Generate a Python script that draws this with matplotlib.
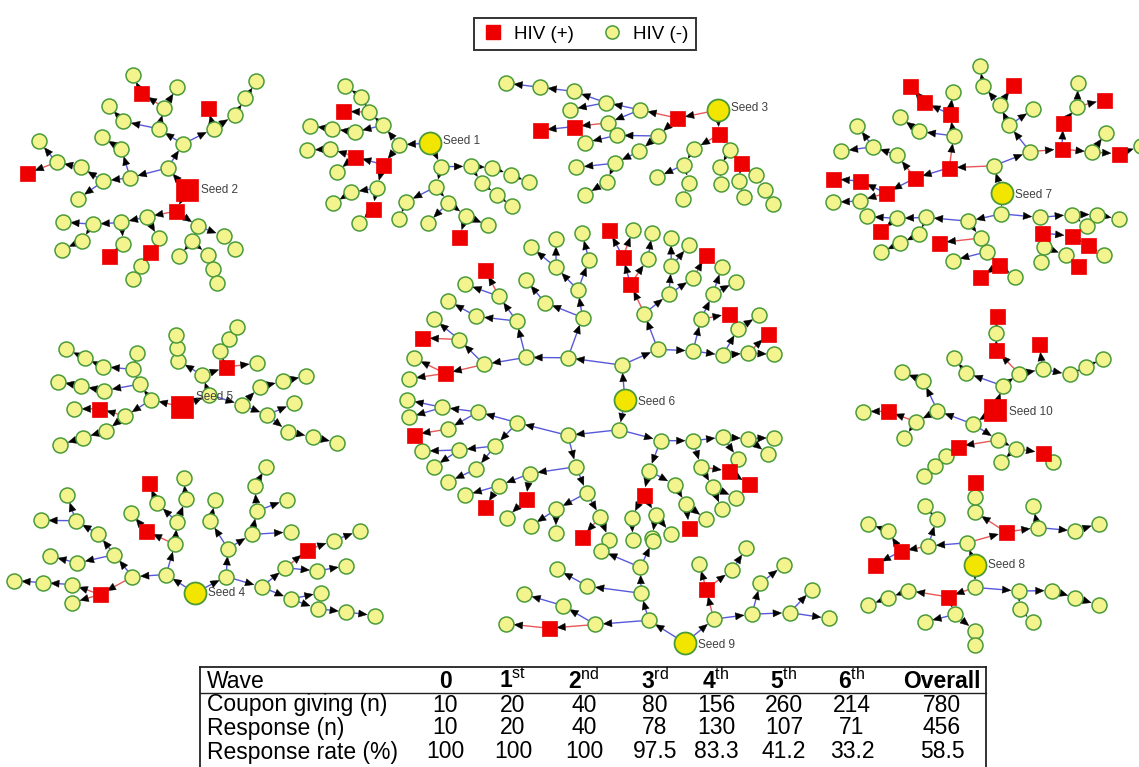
import numpy as np
import matplotlib
matplotlib.use("Agg")
import matplotlib.pyplot as plt
from matplotlib.collections import LineCollection, PolyCollection
from matplotlib.lines import Line2D

plt.rcParams['font.family'] = ['Liberation Sans', 'DejaVu Sans']
plt.rcParams['mathtext.fontset'] = 'custom'
plt.rcParams['mathtext.rm'] = 'Liberation Sans'
plt.rcParams['mathtext.bf'] = 'Liberation Sans:bold'

# ------------------------------------------------------------------ data
SEED_NAMES = ['Seed 1', 'Seed 2', 'Seed 3', 'Seed 4', 'Seed 5',
              'Seed 6', 'Seed 7', 'Seed 8', 'Seed 9', 'Seed 10']
SEED_HIV = ['n', 'p', 'n', 'n', 'p', 'n', 'n', 'n', 'n', 'p']

# recruitment trees, wave by wave (breadth first):
# *_KIDS[w] = number of recruits of each person of wave w
# *_HIV[w]  = HIV status of each person of wave w+1 (p = positive, n = negative)
S1_KIDS = ["2", "22", "2222", "21221211", "101101100211"]
S1_HIV = ["nn", "npnn", "nnpnnnnn", "npnnnnpnnnnn", "nnnnnpnnn"]
S2_KIDS = ["2", "22", "2222", "22122121", "1021010211010", "1010201011"]
S2_HIV = ["np", "nnnn", "nnnnnnnn", "npnnnnnnnpnnn", "nnpnnnnpnn", "nnnpnnn"]
S3_KIDS = ["2", "22", "2212", "2111212", "1010201011", "1001001"]
S3_HIV = ["pp", "nnnn", "nnnnnnp", "nnpnnnnnnn", "npnnnnn", "nnn"]
S4_KIDS = ["2", "22", "2222", "22212122", "10110201101110", "1010100201"]
S4_HIV = ["nn", "nnnn", "nnnnnpnp", "nnnpnnnnnnnnnn", "nnnnnnpnnn", "nnnnnn"]
S5_KIDS = ["2", "22", "2222", "21212111", "10101101101", "1010100"]
S5_HIV = ["nn", "nnnn", "nnpnnnpn", "nnnnnnnnnnn", "nnnnnnn", "nnn"]
S6_KIDS = ["2", "22", "2222", "22222222", "2222212222222122",
           "210212121202122212121221222102"]
S6_HIV = ["nn", "nnnn", "nnnnnnnn", "nnnpnnnnnnnnpnnn",
          "nnpnnnnpnnnnnnpnnnnnpnnnnnnpnn",
          "npnnnpnnnnpnnnpnnnpnnnnpnnnnpnnnpnnnnpnnnpnn"]
S7_KIDS = ["2", "22", "2222", "22222222", "2102211221022101",
           "10201010211001020110"]
S7_HIV = ["nn", "npnn", "pnnpnnpn", "npnnpnnpnnpnnpnn",
          "pnnpnnpnnpnnpnnpnnpn", "npnnpnnpnnpnpn"]
S8_KIDS = ["2", "22", "2222", "21121211", "10101010101"]
S8_HIV = ["nn", "pnpn", "nnnpnnnn", "nnnnnpnnnnn", "npnnnn"]
S9_KIDS = ["2", "22", "2222", "21102111"]
S9_HIV = ["nn", "npnn", "nnnnnnnp", "nnnnnnnnn"]
S10_KIDS = ["2", "22", "2122", "2101212", "101010101", "10010"]
S10_HIV = ["nn", "nnnn", "npnnnpn", "npnnpnnnp", "npnnn", "nn"]

TREES_KIDS = [S1_KIDS, S2_KIDS, S3_KIDS, S4_KIDS, S5_KIDS,
              S6_KIDS, S7_KIDS, S8_KIDS, S9_KIDS, S10_KIDS]
TREES_HIV = [S1_HIV, S2_HIV, S3_HIV, S4_HIV, S5_HIV,
             S6_HIV, S7_HIV, S8_HIV, S9_HIV, S10_HIV]

LEGEND_LABELS = ['HIV (+)', 'HIV (-)']

TABLE_COLS = ['0', '1st', '2nd', '3rd', '4th', '5th', '6th', 'Overall']
TABLE_ROWS = ['Coupon giving (n)', 'Response (n)', 'Response rate (%)']
COUPONS = ['10', '20', '40', '80', '156', '260', '214', '780']
RESPONSE = ['10', '20', '40', '78', '130', '107', '71', '456']
RATE = ['100', '100', '100', '97.5', '83.3', '41.2', '33.2', '58.5']

# ------------------------------------------------------------------ layout (styling)
# seed centre (px), angular sector (deg), radial step per wave towards
# left / right / up / down (px), seed label offset
LAYOUT = [
    dict(c=(430, 143), sec=(125, 345), st=(23, 20, 14, 18), lab=(13, -2)),
    dict(c=(187, 190), sec=(55, 305), st=(25.5, 24, 19, 14.5), lab=(14, 0)),
    dict(c=(718, 110), sec=(160, 305), st=(35, 18, 18, 16.5), lab=(13, -2)),
    dict(c=(195, 593), sec=(-20, 195), st=(29, 29.5, 21.5, 15), lab=(13, 0)),
    dict(c=(182, 407), sec=(-30, 215), st=(25, 26, 12.8, 17), lab=(14, -10)),
    dict(c=(625, 400), sec=(12, 348), st=(35, 24.5, 27, 22), lab=(13, 2)),
    dict(c=(1002, 193), sec=(15, 345), st=(27, 23.5, 20, 12.8), lab=(13, 2)),
    dict(c=(975, 565), sec=(15, 345), st=(23, 27, 15, 14.4), lab=(13, 0)),
    dict(c=(685, 643), sec=(5, 178), st=(43.5, 35, 24, 10), lab=(13, 2)),
    dict(c=(995, 410), sec=(12, 320), st=(24.8, 19, 17.3, 11), lab=(14, 2)),
]
R_OFF = 8.0

R_NODE = 7.5
R_SEED = 11.0
COL_NEG = '#f4f48e'
COL_SEED = '#f2e600'
COL_EDGE_NODE = '#4a9a3a'
COL_POS = '#ee0000'
COL_BLUE = '#5858dc'
COL_RED = '#e85858'


def build(kids_levels, hiv_levels, seed_hiv):
    parent, depth, hiv = [-1], [0], [seed_hiv]
    level = [0]
    for d, (kids, stat) in enumerate(zip(kids_levels, hiv_levels)):
        counts = [int(ch) for ch in kids]
        assert len(counts) == len(level), (kids, len(level))
        assert sum(counts) == len(stat), (kids, stat)
        new, k = [], 0
        for node, cnt in zip(level, counts):
            for _ in range(cnt):
                parent.append(node)
                depth.append(d + 1)
                hiv.append(stat[k])
                new.append(len(parent) - 1)
                k += 1
        level = new
    return parent, depth, hiv


def radial(parent, depth, c, sec, st):
    n = len(parent)
    children = [[] for _ in range(n)]
    for i, p in enumerate(parent):
        if p >= 0:
            children[p].append(i)
    leaves = [0.0] * n
    for i in reversed(range(n)):
        leaves[i] = max(1.0, sum(leaves[ch] for ch in children[i]))
    ang = np.zeros(n)
    span = {0: sec}
    for i in range(n):
        a0, a1 = span[i]
        ang[i] = 0.5 * (a0 + a1)
        tot = sum(leaves[ch] for ch in children[i])
        cur = a0
        for ch in children[i]:
            w = (a1 - a0) * leaves[ch] / tot
            span[ch] = (cur, cur + w)
            cur += w
    d = np.asarray(depth, float)
    a = np.radians(ang)
    ca, sa = np.cos(a), np.sin(a)
    sx = np.where(ca < 0, st[0], st[1])
    sy = np.where(sa > 0, st[2], st[3])
    rx = np.where(d > 0, R_OFF + d * sx, 0.0)
    ry = np.where(d > 0, R_OFF + d * sy, 0.0)
    return c[0] + rx * ca, c[1] - ry * sa


W, H = 1139, 767
fig = plt.figure(figsize=(W / 100, H / 100), dpi=100)
ax = fig.add_axes([0, 0, 1, 1])
ax.set_xlim(0, W)
ax.set_ylim(H, 0)
ax.axis('off')

px2pt = 72 / 100
segs_b, segs_r, heads = [], [], []
for k in range(10):
    parent, depth, hiv = build(TREES_KIDS[k], TREES_HIV[k], SEED_HIV[k])
    L = LAYOUT[k]
    x, y = radial(parent, depth, L['c'], L['sec'], L['st'])
    for i, p in enumerate(parent):
        if p < 0:
            continue
        dx, dy = x[i] - x[p], y[i] - y[p]
        dist = np.hypot(dx, dy)
        ux, uy = dx / dist, dy / dist
        tip = np.array([x[i] - ux * (R_NODE + 0.5), y[i] - uy * (R_NODE + 0.5)])
        base = tip - 8.5 * np.array([ux, uy])
        nrm = np.array([-uy, ux]) * 3.6
        heads.append([tip, base + nrm, base - nrm])
        seg = [(x[p], y[p]), (base[0], base[1])]
        if hiv[i] != hiv[p]:
            segs_r.append(seg)
        else:
            segs_b.append(seg)
    hiv = np.array(hiv)
    dep = np.array(depth)
    m_neg = (hiv == 'n') & (dep > 0)
    m_pos = (hiv == 'p') & (dep > 0)
    ax.scatter(x[m_neg], y[m_neg], s=(2 * R_NODE * px2pt) ** 2, marker='o',
               facecolor=COL_NEG, edgecolor=COL_EDGE_NODE, linewidth=1.1, zorder=4)
    ax.scatter(x[m_pos], y[m_pos], s=(2 * R_NODE * px2pt) ** 2, marker='s',
               facecolor=COL_POS, edgecolor=COL_POS, linewidth=0.5, zorder=4)
    if SEED_HIV[k] == 'p':
        ax.scatter([x[0]], [y[0]], s=(2 * R_SEED * px2pt) ** 2, marker='s',
                   facecolor=COL_POS, edgecolor=COL_POS, linewidth=0.5, zorder=4)
    else:
        ax.scatter([x[0]], [y[0]], s=(2 * R_SEED * px2pt) ** 2, marker='o',
                   facecolor=COL_SEED, edgecolor=COL_EDGE_NODE, linewidth=1.3, zorder=4)
    ax.text(x[0] + L['lab'][0], y[0] + L['lab'][1], SEED_NAMES[k],
            fontsize=8.5, color='#404040', ha='left', va='center', zorder=5)

ax.add_collection(LineCollection(segs_b, colors=COL_BLUE, linewidths=1.0, zorder=2))
ax.add_collection(LineCollection(segs_r, colors=COL_RED, linewidths=1.0, zorder=2))
ax.add_collection(PolyCollection(heads, facecolors='black', edgecolors='black',
                                 linewidths=0.3, zorder=3))

# legend
handles = [Line2D([], [], marker='s', linestyle='none', markersize=9.5,
                  markerfacecolor=COL_POS, markeredgecolor=COL_POS),
           Line2D([], [], marker='o', linestyle='none', markersize=9.5,
                  markerfacecolor=COL_NEG, markeredgecolor=COL_EDGE_NODE,
                  markeredgewidth=1.1)]
leg = fig.legend(handles, LEGEND_LABELS, loc='upper center', ncol=2,
                 bbox_to_anchor=(585 / W, 1 - 18 / H), fontsize=13.5,
                 frameon=True, fancybox=False, edgecolor='black',
                 handletextpad=0.55, columnspacing=1.4, borderpad=0.4,
                 handlelength=1.2, borderaxespad=0)
leg.get_frame().set_linewidth(1.4)

# table
tx0, tx1 = 200, 986
ty_top, ty_hdr = 667, 693
ax.plot([tx0, tx1], [ty_top, ty_top], color='#222222', lw=1.3, zorder=1)
ax.plot([tx0, tx1], [ty_hdr, ty_hdr], color='#222222', lw=1.0, zorder=1)
ax.plot([tx0, tx0], [ty_top, H], color='#222222', lw=1.3, zorder=1)
ax.plot([tx1, tx1], [ty_top, H], color='#222222', lw=1.3, zorder=1)

col_x = [445, 513, 584, 655, 716, 784, 852, 942]
row_y = [681, 705, 728, 752]
fs = 16.5
ax.text(207, row_y[0], 'Wave', fontsize=fs, ha='left', va='center')
for cx_, lab in zip(col_x, TABLE_COLS):
    if lab[0].isdigit() and len(lab) > 1:
        txt = r'$\mathbf{%s}^{\mathrm{%s}}$' % (lab[0], lab[1:])
    else:
        txt = lab
    ax.text(cx_, row_y[0], txt, fontsize=fs, fontweight='bold', ha='center', va='center')
for r, (name, vals) in enumerate(zip(TABLE_ROWS, [COUPONS, RESPONSE, RATE])):
    ax.text(207, row_y[r + 1], name, fontsize=fs, ha='left', va='center')
    for cx_, v in zip(col_x, vals):
        ax.text(cx_, row_y[r + 1], v, fontsize=fs, ha='center', va='center')

fig.savefig('out.png', dpi=100)
